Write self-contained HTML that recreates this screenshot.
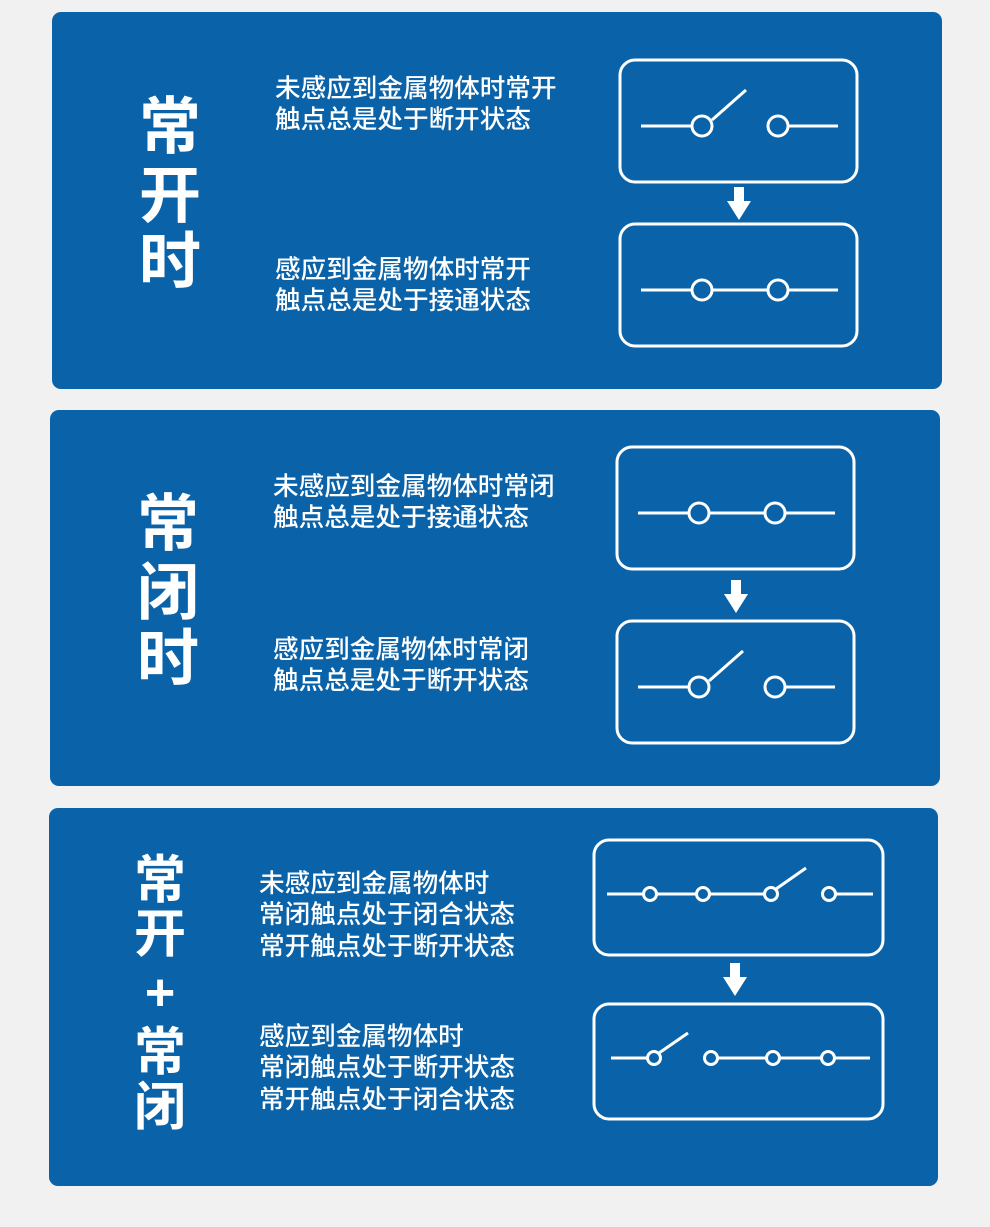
<!DOCTYPE html>
<html><head><meta charset="utf-8"><style>
html,body{margin:0;padding:0;background:#f1f1f1;}
svg{display:block}
text{font-family:"Liberation Sans","Noto Sans CJK SC",sans-serif;fill:#fff}
</style></head><body>
<svg width="990" height="1227" viewBox="0 0 990 1227" xmlns="http://www.w3.org/2000/svg">
<rect width="990" height="1227" fill="#f1f1f1"/>
<g fill="#0a62a8">
<rect x="52" y="12" width="890" height="377" rx="9"/>
<rect x="50" y="410" width="890" height="376" rx="9"/>
<rect x="49" y="808" width="889" height="378" rx="9"/>
</g>
<g font-size="62" font-weight="bold" text-anchor="middle">
<text x="170" y="148">常</text><text x="170" y="217">开</text><text x="170" y="283">时</text>
<text x="168" y="545">常</text><text x="168" y="614">闭</text><text x="168" y="680">时</text>
</g>
<g font-size="52" font-weight="bold" text-anchor="middle">
<text x="160" y="898">常</text><text x="160" y="952">开</text><text x="160" y="1010">+</text><text x="160" y="1070">常</text><text x="160" y="1125">闭</text>
</g>
<g font-size="25.6" font-weight="500">
<text x="275" y="97">未感应到金属物体时常开</text>
<text x="275" y="128">触点总是处于断开状态</text>
<text x="275" y="278">感应到金属物体时常开</text>
<text x="275" y="309">触点总是处于接通状态</text>
<text x="273" y="495">未感应到金属物体时常闭</text>
<text x="273" y="526">触点总是处于接通状态</text>
<text x="273" y="658">感应到金属物体时常闭</text>
<text x="273" y="689">触点总是处于断开状态</text>
<text x="259" y="892">未感应到金属物体时</text>
<text x="259" y="923">常闭触点处于闭合状态</text>
<text x="259" y="955">常开触点处于断开状态</text>
<text x="259" y="1045">感应到金属物体时</text>
<text x="259" y="1076">常闭触点处于断开状态</text>
<text x="259" y="1108">常开触点处于闭合状态</text>
</g>
<g fill="none" stroke="#fff" stroke-width="3">
<rect x="620" y="60" width="237" height="122" rx="15"/>
<rect x="620" y="224" width="237" height="122" rx="15"/>
<rect x="617" y="447" width="237" height="122" rx="15"/>
<rect x="617" y="621" width="237" height="122" rx="15"/>
<rect x="594" y="840" width="289" height="115" rx="15"/>
<rect x="594" y="1004" width="289" height="115" rx="15"/>
<path d="M641 126H692M712 120L746 90M788 126H838"/>
<circle cx="702" cy="126" r="10"/><circle cx="778" cy="126" r="10"/>
<path d="M641 290H692M712 290H768M788 290H838"/>
<circle cx="702" cy="290" r="10"/><circle cx="778" cy="290" r="10"/>
<path d="M638 513H689M709 513H765M785 513H835"/>
<circle cx="699" cy="513" r="10"/><circle cx="775" cy="513" r="10"/>
<path d="M638 687H689M709 681L743 651M785 687H835"/>
<circle cx="699" cy="687" r="10"/><circle cx="775" cy="687" r="10"/>
<path d="M607 894H644M656 894H697M710 894H765M776 889L806 868M835 894H873"/>
<circle cx="650" cy="894" r="6.5"/><circle cx="703" cy="894" r="6.5"/><circle cx="771" cy="894" r="6.5"/><circle cx="829" cy="894" r="6.5"/>
<path d="M611 1058H648M659 1053L688 1033M718 1058H766M780 1058H821M835 1058H870"/>
<circle cx="654" cy="1058" r="6.5"/><circle cx="711" cy="1058" r="6.5"/><circle cx="773" cy="1058" r="6.5"/><circle cx="828" cy="1058" r="6.5"/>
</g>
<g fill="#fff">
<path d="M734 187h10v14h7l-12 19l-12-19h7z"/>
<path d="M731 580h10v14h7l-12 19l-12-19h7z"/>
<path d="M730 963h10v14h7l-12 19l-12-19h7z"/>
</g>
</svg>
</body></html>
